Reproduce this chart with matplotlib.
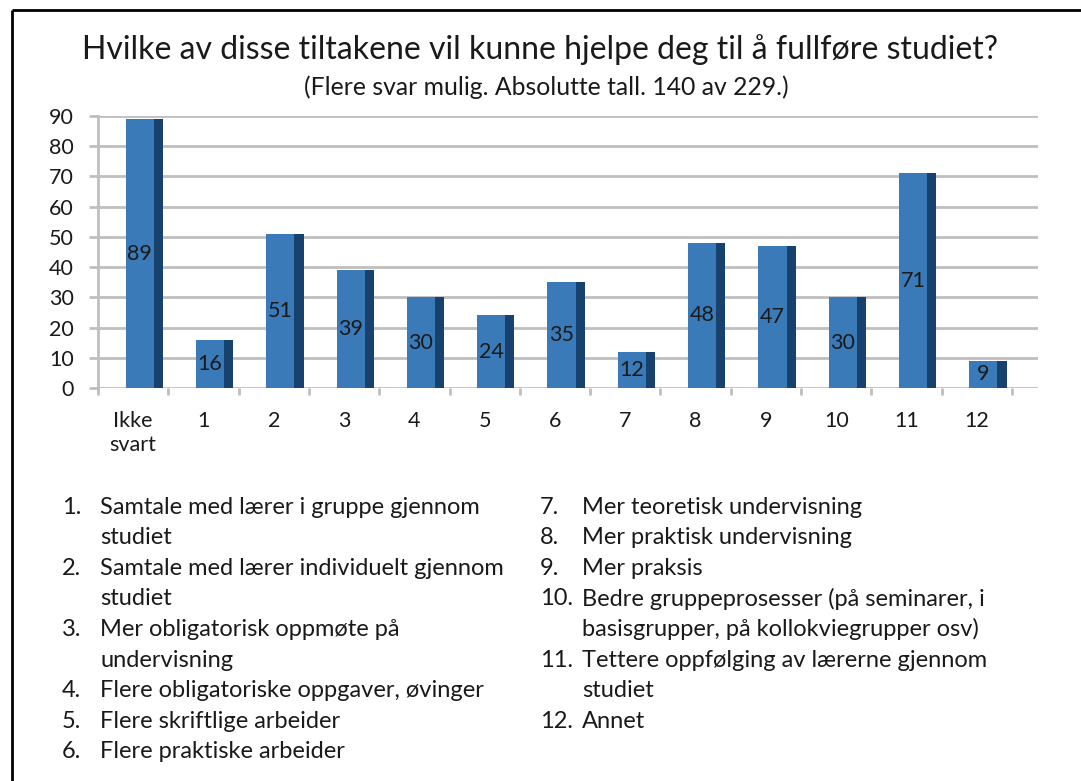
import matplotlib
matplotlib.use("Agg")
import matplotlib.pyplot as plt
from matplotlib.lines import Line2D
import numpy as np

plt.rcParams['font.family'] = ['Lato', 'DejaVu Sans']

# data
categories = ['Ikke\nsvart', '1', '2', '3', '4', '5', '6', '7', '8', '9', '10', '11', '12']
counts = [89, 16, 51, 39, 30, 24, 35, 12, 48, 47, 30, 71, 9]

legend_left = [
    ('1.', 'Samtale med lærer i gruppe gjennom\nstudiet'),
    ('2.', 'Samtale med lærer individuelt gjennom\nstudiet'),
    ('3.', 'Mer obligatorisk oppmøte på\nundervisning'),
    ('4.', 'Flere obligatoriske oppgaver, øvinger'),
    ('5.', 'Flere skriftlige arbeider'),
    ('6.', 'Flere praktiske arbeider'),
]
legend_right = [
    ('7.', 'Mer teoretisk undervisning'),
    ('8.', 'Mer praktisk undervisning'),
    ('9.', 'Mer praksis'),
    ('10.', 'Bedre gruppeprosesser (på seminarer, i\nbasisgrupper, på kollokviegrupper osv)'),
    ('11.', 'Tettere oppfølging av lærerne gjennom\nstudiet'),
    ('12.', 'Annet'),
]

title = 'Hvilke av disse tiltakene vil kunne hjelpe deg til å fullføre studiet?'
subtitle = '(Flere svar mulig. Absolutte tall. 140 av 229.)'

front_col = '#3a7ab8'
side_col = '#16426d'
grid_col = '#bfbfbf'
text_col = '#1a1a1a'

W, H = 1081, 781
fig = plt.figure(figsize=(W / 100, H / 100), dpi=100)

# axes placed in pixel terms
left_px, right_px, top_px, bot_px = 98, 1038, 116, 388
ax = fig.add_axes([left_px / W, 1 - bot_px / H, (right_px - left_px) / W, (bot_px - top_px) / H])

x = np.arange(len(categories))
off = 0.093
fw = 0.40
sw = 0.13
ax.bar(x + off, counts, width=fw, color=front_col, zorder=3)
ax.bar(x + off + fw / 2 + sw / 2, counts, width=sw, color=side_col, zorder=3)
for xi, v in zip(x, counts):
    ax.text(xi + off, v / 2, str(v), ha='center', va='center', fontsize=15.5, color=text_col, zorder=4)

ax.set_xlim(-0.5, 12.87)
ax.set_ylim(0, 90)
ax.set_yticks(range(0, 91, 10))
ax.yaxis.grid(True, color=grid_col, linewidth=2, zorder=0)
ax.set_axisbelow(True)
for s in ['top', 'right']:
    ax.spines[s].set_visible(False)
ax.spines['left'].set_color(grid_col)
ax.spines['left'].set_linewidth(2)
ax.spines['bottom'].set_visible(False)
ax.tick_params(axis='y', length=6.5, width=2, color=grid_col, labelsize=15.5, labelcolor=text_col, pad=11)

# category ticks on boundaries, labels in the middle
ax.set_xticks(np.arange(-0.5, 13, 1.0), minor=False)
ax.set_xticklabels([''] * 14)
ax.tick_params(axis='x', length=5, width=2, color=grid_col)
for xi, lab in zip(x, categories):
    ax.text(xi, -7.5, lab, ha='center', va='top', fontsize=15.5, color=text_col, linespacing=1.3)

fig.text(0.5, 1 - 50 / H, title, ha='center', va='center', fontsize=23, color=text_col)
fig.text(0.505, 1 - 87 / H, subtitle, ha='center', va='center', fontsize=17.8, color=text_col)

# legend of numbered items
line_h = 30.6
def draw_list(items, num_x, txt_x, y0):
    y = y0
    for num, txt in items:
        fig.text(num_x / W, 1 - y / H, num, ha='left', va='center', fontsize=17, color=text_col)
        for ln in txt.split('\n'):
            fig.text(txt_x / W, 1 - y / H, ln, ha='left', va='center', fontsize=17, color=text_col)
            y += line_h

draw_list(legend_left, 62, 100, 507)
draw_list(legend_right, 540, 582, 507)

# image frame on top and left
fig.add_artist(Line2D([12 / W, 1], [1 - 10 / H, 1 - 10 / H], color='black', linewidth=2,
                      solid_capstyle='butt'))
fig.add_artist(Line2D([12 / W, 12 / W], [1 - 10 / H, 0], color='black', linewidth=2,
                      solid_capstyle='butt'))

fig.savefig('out.png', dpi=100)
